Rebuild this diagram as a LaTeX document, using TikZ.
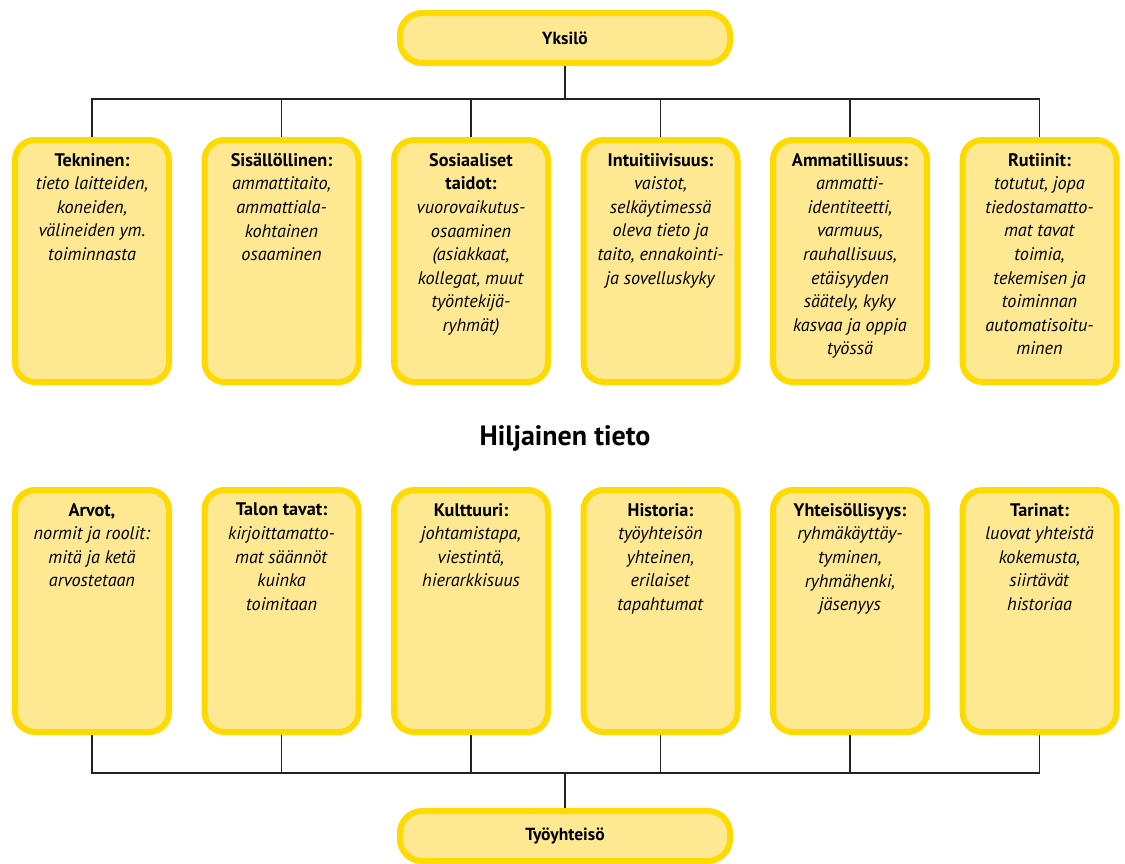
\documentclass[tikz,border=0pt]{standalone}
\usepackage{fontspec}
\setmainfont{PT Sans}
\usetikzlibrary{calc}
\definecolor{ybord}{HTML}{FFDA00}
\definecolor{yfill}{HTML}{FEE892}
\definecolor{lnc}{HTML}{222222}
\tikzset{
  card/.style={draw=ybord, fill=yfill, line width=6pt, rounded corners=20pt,
    minimum width=154pt, minimum height=242pt, inner sep=0pt},
  pill/.style={draw=ybord, fill=yfill, line width=6pt, rounded corners=22pt,
    minimum width=330pt, minimum height=50pt, inner sep=0pt,
    font=\bfseries\fontsize{17.5}{20}\selectfont},
  txt/.style={align=center, inner sep=0pt, anchor=north,
    font=\fontsize{18.2}{23.6}\selectfont},
  conn/.style={draw=lnc, line width=1.3pt},
  heading/.style={font=\bfseries\fontsize{28}{32}\selectfont, inner sep=0pt}
}
\newcommand{\ttl}[1]{\textbf{#1}}
\newcommand{\bdy}[1]{\textit{#1}}
\begin{document}
\begin{tikzpicture}[x=1pt,y=-1pt]
\useasboundingbox (0,0) rectangle (1125,863);
\fill[white] (0,0) rectangle (1125,863);

% top and bottom pills
\node[pill] (top) at (565,38) {Yksilö};
\node[pill] (bot) at (565,836) {Työyhteisö};

% top row cards
\node[card] (c1) at (92,261) {};
\node[card] (c2) at (281.5,261) {};
\node[card] (c3) at (471,261) {};
\node[card] (c4) at (660.5,261) {};
\node[card] (c5) at (850,261) {};
\node[card] (c6) at (1039.5,261) {};

% bottom row cards
\node[card] (d1) at (92,611) {};
\node[card] (d2) at (281.5,611) {};
\node[card] (d3) at (471,611) {};
\node[card] (d4) at (660.5,611) {};
\node[card] (d5) at (850,611) {};
\node[card] (d6) at (1039.5,611) {};

% heading
\node[heading] (mid) at (565,438) {Hiljainen tieto};

% texts top row
\node[txt] (tc1) at ($(c1.north)+(0,16)$) {\ttl{Tekninen:}\\ \bdy{tieto laitteiden,}\\ \bdy{koneiden,}\\ \bdy{välineiden ym.}\\ \bdy{toiminnasta}};
\node[txt] (tc2) at ($(c2.north)+(0,16)$) {\ttl{Sisällöllinen:}\\ \bdy{ammattitaito,}\\ \bdy{ammattiala-}\\ \bdy{kohtainen}\\ \bdy{osaaminen}};
\node[txt] (tc3) at ($(c3.north)+(0,16)$) {\ttl{Sosiaaliset}\\ \ttl{taidot:}\\ \bdy{vuorovaikutus-}\\ \bdy{osaaminen}\\ \bdy{(asiakkaat,}\\ \bdy{kollegat, muut}\\ \bdy{työntekijä-}\\ \bdy{ryhmät)}};
\node[txt] (tc4) at ($(c4.north)+(0,16)$) {\ttl{Intuitiivisuus:}\\ \bdy{vaistot,}\\ \bdy{selkäytimessä}\\ \bdy{oleva tieto ja}\\ \bdy{taito, ennakointi-}\\ \bdy{ja sovelluskyky}};
\node[txt] (tc5) at ($(c5.north)+(0,16)$) {\ttl{Ammatillisuus:}\\ \bdy{ammatti-}\\ \bdy{identiteetti,}\\ \bdy{varmuus,}\\ \bdy{rauhallisuus,}\\ \bdy{etäisyyden}\\ \bdy{säätely, kyky}\\ \bdy{kasvaa ja oppia}\\ \bdy{työssä}};
\node[txt] (tc6) at ($(c6.north)+(0,16)$) {\ttl{Rutiinit:}\\ \bdy{totutut, jopa}\\ \bdy{tiedostamatto-}\\ \bdy{mat tavat}\\ \bdy{toimia,}\\ \bdy{tekemisen ja}\\ \bdy{toiminnan}\\ \bdy{automatisoitu-}\\ \bdy{minen}};

% texts bottom row
\node[txt] (td1) at ($(d1.north)+(0,16)$) {\ttl{Arvot,}\\ \bdy{normit ja roolit:}\\ \bdy{mitä ja ketä}\\ \bdy{arvostetaan}};
\node[txt] (td2) at ($(d2.north)+(0,16)$) {\ttl{Talon tavat:}\\ \bdy{kirjoittamatto-}\\ \bdy{mat säännöt}\\ \bdy{kuinka}\\ \bdy{toimitaan}};
\node[txt] (td3) at ($(d3.north)+(0,16)$) {\ttl{Kulttuuri:}\\ \bdy{johtamistapa,}\\ \bdy{viestintä,}\\ \bdy{hierarkkisuus}};
\node[txt] (td4) at ($(d4.north)+(0,16)$) {\ttl{Historia:}\\ \bdy{työyhteisön}\\ \bdy{yhteinen,}\\ \bdy{erilaiset}\\ \bdy{tapahtumat}};
\node[txt] (td5) at ($(d5.north)+(0,16)$) {\ttl{Yhteisöllisyys:}\\ \bdy{ryhmäkäyttäy-}\\ \bdy{tyminen,}\\ \bdy{ryhmähenki,}\\ \bdy{jäsenyys}};
\node[txt] (td6) at ($(d6.north)+(0,16)$) {\ttl{Tarinat:}\\ \bdy{luovat yhteistä}\\ \bdy{kokemusta,}\\ \bdy{siirtävät}\\ \bdy{historiaa}};

% connectors top
\draw[conn] (top.south) -- ++(0,33) coordinate (tbus);
\draw[conn] (c1.north) |- (tbus) -| (c6.north);
\foreach \n in {c2,c3,c4,c5} \draw[conn] (\n.north) -- (\n.north |- tbus);

% connectors bottom
\draw[conn] (bot.north) -- ++(0,-35) coordinate (bbus);
\draw[conn] (d1.south) |- (bbus) -| (d6.south);
\foreach \n in {d2,d3,d4,d5} \draw[conn] (\n.south) -- (\n.south |- bbus);
\end{tikzpicture}
\end{document}
